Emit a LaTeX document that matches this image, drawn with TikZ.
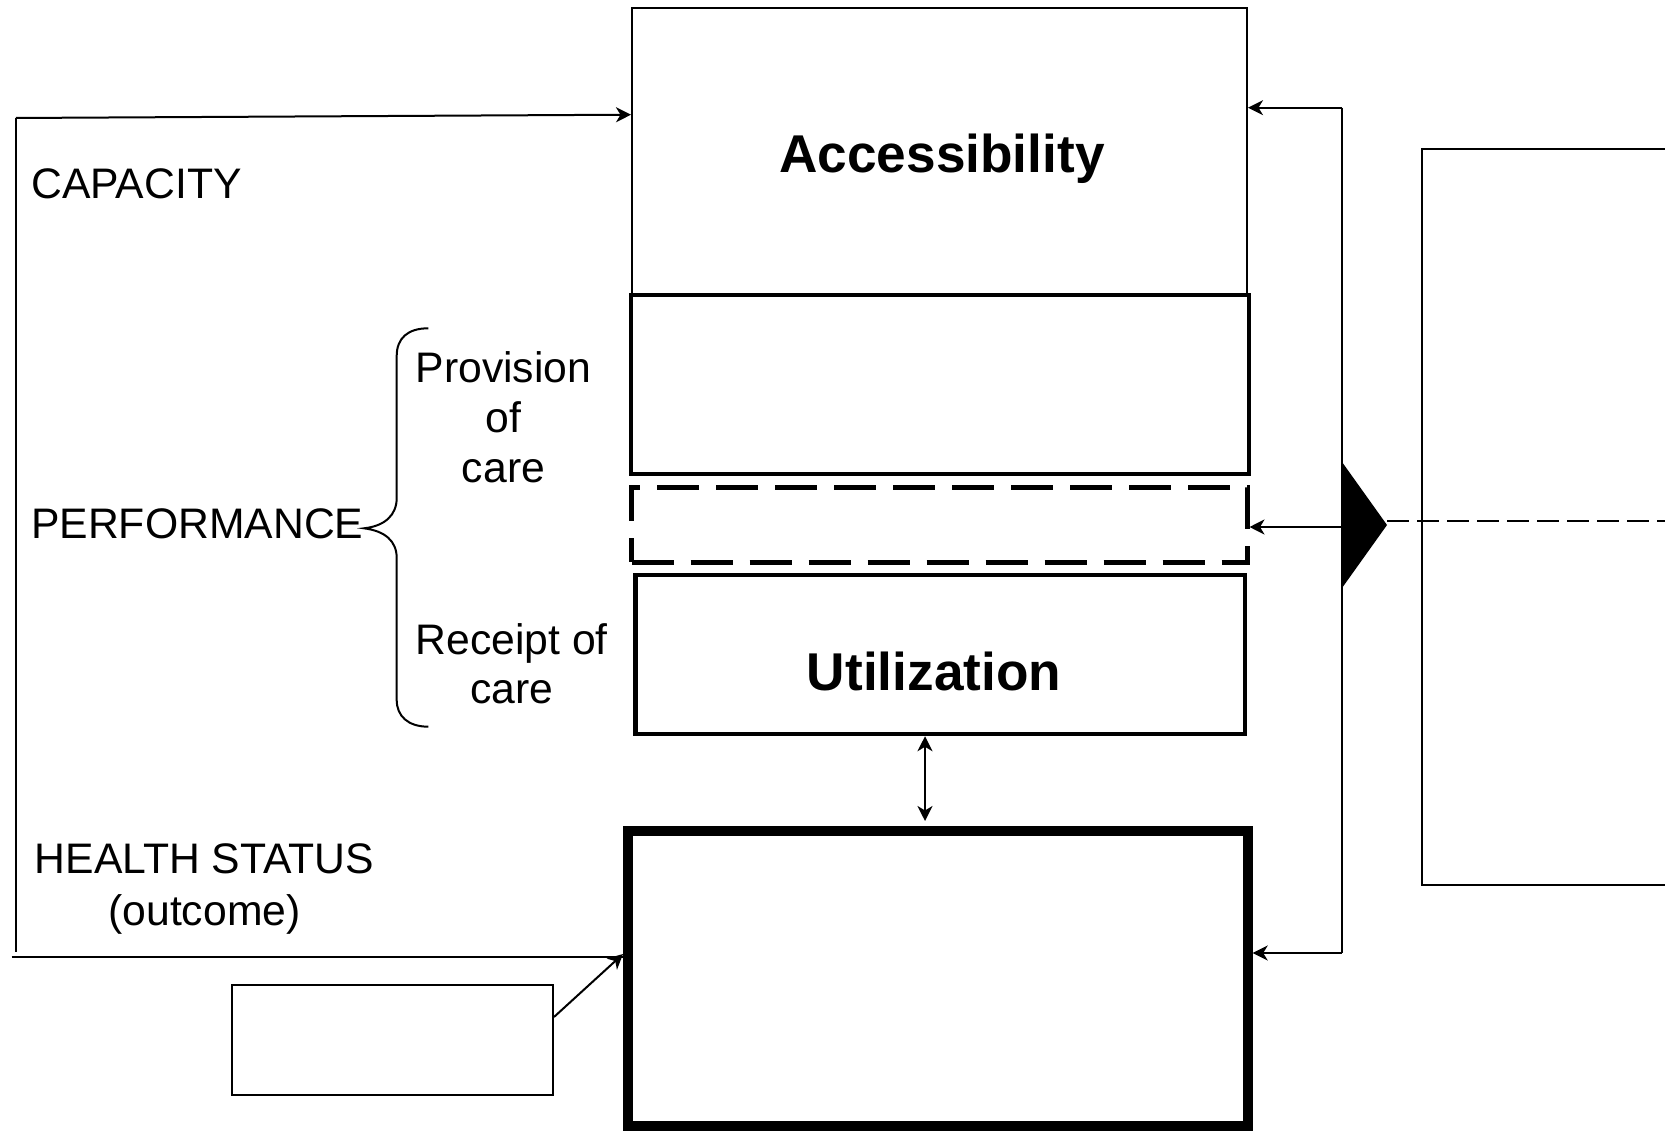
\documentclass[tikz,border=0pt]{standalone}
\usepackage{fontspec}
\setmainfont{Liberation Sans}
\usetikzlibrary{arrows.meta}
\begin{document}
\begin{tikzpicture}[x=1pt,y=-1pt,
  arr/.style={-{Stealth[length=15pt,width=15pt,inset=4.5pt]},line width=2pt},
  darr/.style={{Stealth[length=15pt,width=15pt,inset=4.5pt]}-{Stealth[length=15pt,width=15pt,inset=4.5pt]},line width=2pt},
  box/.style={draw,rectangle,inner sep=0},
  lbl/.style={inner sep=0,font=\fontsize{42.7}{50}\selectfont},
  big/.style={inner sep=0,font=\fontsize{53.2}{60}\selectfont\bfseries}]
\useasboundingbox (0,0) rectangle (1665,1131);
\clip (0,0) rectangle (1665,1131);
% boxes
\node[box,line width=2pt,minimum width=615pt,minimum height=286.5pt] (acc) at (939.5,151.75) {};
\node[box,line width=4pt,minimum width=618.5pt,minimum height=179pt] (prov) at (939.75,384.5) {};
\node[box,line width=5pt,dash pattern=on 42pt off 17pt,minimum width=615.5pt,minimum height=75pt] (dash) at (939.25,524.5) {};
\node[box,line width=4.5pt,minimum width=609.5pt,minimum height=159pt] (util) at (940.25,654.5) {};
\node[box,line width=10pt,minimum width=619.7pt,minimum height=295pt] (health) at (937.85,978.5) {};
\node[box,line width=2pt,minimum width=321.5pt,minimum height=110.5pt] (small) at (392.25,1039.75) {};
\node[box,line width=2pt,minimum width=278pt,minimum height=736pt] (right) at (1561,517) {};
% texts
\node[big,anchor=base] (tacc) at (942,173) {Accessibility};
\node[big,anchor=base] (tutil) at (934,690) {Utilization};
\node[lbl,anchor=base west] (tcap) at (31,199) {CAPACITY};
\node[lbl,anchor=base west] (tperf) at (31,538) {PERFORMANCE};
\node[lbl,align=center,anchor=north] (tprov) at (503.5,351.4) {Provision\\of\\care};
\node[inner sep=0,font=\fontsize{42.7}{49}\selectfont,align=center,anchor=north] (trec) at (511.7,623.7) {Receipt of\\care};
\node[inner sep=0,font=\fontsize{42.7}{52}\selectfont,align=center,anchor=north] (thealth) at (204.5,843.4) {HEALTH STATUS\\(outcome)};
% brace
\draw[line width=2pt] (428.3,328.3) .. controls (408,328.3) and (396.7,338) .. (396.7,356)
  -- (396.7,498) .. controls (396.7,515) and (385,526) .. (364,528.3)
  .. controls (385,531) and (396.7,541) .. (396.7,558)
  -- (396.7,700) .. controls (396.7,716) and (408,726.7) .. (428.3,726.7);
% left loop
\coordinate (lt) at (16,118);
\coordinate (lb) at (16,951.7);
\coordinate (lbe) at (11.7,956.7);
\coordinate (ta) at (0,114.7);
\draw[line width=2pt] (lb) -- (lt);
\draw[arr] (lt) -- (acc.west |- ta);
\draw[line width=2pt] (lbe) -- (health.west |- lbe);
\draw[arr] ([yshift=22.75pt]small.east) -- ([yshift=24.5pt]health.west);
% right loop
\coordinate (ra) at (1341.5,107.7);
\coordinate (rb) at (1341.5,953);
\draw[line width=2pt] (ra) -- (rb);
\draw[arr] (ra) -- (acc.east |- ra);
\draw[arr] (rb) -- (health.east |- rb);
% triangle and dashed line
\coordinate (tri) at (1387,525);
\fill (1342,462) -- (tri) -- (1342,588) -- cycle;
\coordinate (dl) at (1387,520.7);
\coordinate (dr) at (1665,520.7);
\draw[line width=2pt,dash pattern=on 22pt off 8pt] (dl) -- (dr);
\coordinate (ma) at (1342,527);
\draw[arr] (ma) -- (dash.east |- ma);
% util <-> health
\coordinate (da) at (925,821);
\draw[darr] (util.south -| da) -- (da);
\end{tikzpicture}
\end{document}
